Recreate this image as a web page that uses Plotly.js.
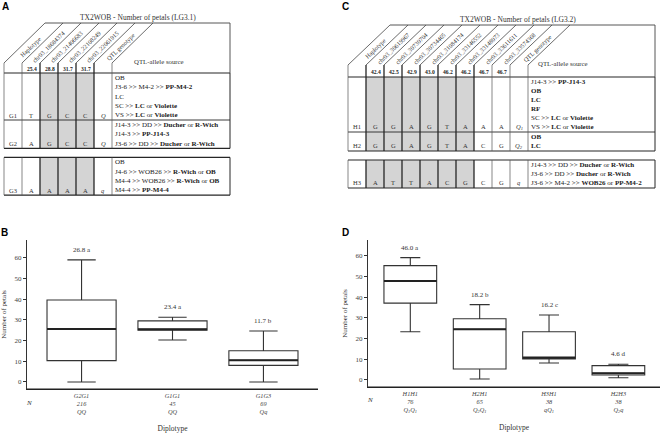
<!DOCTYPE html>
<html><head><meta charset="utf-8">
<script src="https://cdn.plot.ly/plotly-3.0.1.min.js"></script>
<style>html,body{margin:0;padding:0;background:#fff}#chart{width:661px;height:433px}</style>
</head><body><div id="chart"></div>
<script>
// ================= DATA =================
// Panel B (LG3.1 diplotypes)
const catsB = ['G2G1', 'G1G1', 'G1G3'];
const nB = ['216', '45', '69'];
const genoB = ['QQ', 'QQ', 'Qq'];
const q1B = [10.3, 25.0, 8.0];
const medB = [25.6, 25.5, 10.5];
const q3B = [39.6, 29.5, 15.1];
const loB = [0, 20.3, 0];
const hiB = [59.0, 31.3, 24.6];
const meanLabB = ['26.8 a', '23.4 a', '11.7 b'];

// Panel D (LG3.2 diplotypes)
const catsD = ['H1H1', 'H2H1', 'H3H1', 'H2H3'];
const nD = ['76', '65', '38', '38'];
const genoD = ['Q<sub>1</sub>Q<sub>1</sub>', 'Q<sub>2</sub>Q<sub>1</sub>', 'qQ<sub>1</sub>', 'Q<sub>2</sub>q'];
const q1D = [37.1, 5.3, 10.2, 2.4];
const medD = [47.8, 24.5, 10.8, 3.2];
const q3D = [55.2, 29.6, 23.3, 6.9];
const loD = [23.3, 0.5, 8.2, 1.1];
const hiD = [59.1, 36.4, 31.4, 7.6];
const meanLabD = ['46.0 a', '18.2 b', '16.2 c', '4.6 d'];

const yTicks = [0, 10, 20, 30, 40, 50, 60];

// Table A
const titleA = 'TX2WOB - Number of petals (LG3.1)';
const markersA = ['chr03_18684374', 'chr03_21406683', 'chr03_22108249', 'chr03_22061915'];
const posA = ['25.4', '28.8', '31.7', '31.7'];
const grayA = [false, true, true, true];
const hapsA = ['G1', 'G2', 'G3'];
const blockA = [0, 0, 1];
const allelesA = [['T', 'G', 'C', 'C'], ['A', 'G', 'C', 'C'], ['A', 'A', 'A', 'A']];
const qtlA = ['Q', 'Q', 'q'];
const sourcesA = [
  ['OB', 'J3-6 >> M4-2 >> <b>PP-M4-2</b>', 'LC', 'SC >> <b>LC</b> or <b>Violette</b>', 'VS >> <b>LC</b> or <b>Violette</b>'],
  ['J14-3 >> DD >> <b>Ducher</b> or <b>R-Wich</b>', 'J14-3 >> <b>PP-J14-3</b>', 'J3-6 >> DD >> <b>Ducher</b> or <b>R-Wich</b>'],
  ['OB', 'J4-6 >> WOB26 >> <b>R-Wich</b> or <b>OB</b>', 'M4-4 >> WOB26 >> <b>R-Wich</b> or <b>OB</b>', 'M4-4 >> <b>PP-M4-4</b>']
];

// Table C
const titleC = 'TX2WOB - Number of petals (LG3.2)';
const markersC = ['chr03_30619967', 'chr03_30730704', 'chr03_30734465', 'chr03_31084174',
                  'chr03_33146552', 'chr03_33148073', 'chr03_33611611', 'chr03_33574368'];
const posC = ['42.4', '42.5', '42.9', '43.0', '46.2', '46.2', '46.7', '46.7'];
const grayC = [true, true, true, true, true, true, false, false];
const hapsC = ['H1', 'H2', 'H3'];
const blockC = [0, 0, 1];
const allelesC = [['G', 'G', 'A', 'G', 'T', 'A', 'A', 'A'],
                  ['G', 'G', 'A', 'G', 'T', 'A', 'C', 'G'],
                  ['A', 'T', 'T', 'A', 'C', 'G', 'C', 'G']];
const qtlC = ['Q<sub>1</sub>', 'Q<sub>2</sub>', 'q'];
const sourcesC = [
  ['J14-3 >> <b>PP-J14-3</b>', '<b>OB</b>', '<b>LC</b>', '<b>RF</b>', 'SC >> <b>LC</b> or <b>Violette</b>', 'VS >> <b>LC</b> or <b>Violette</b>'],
  ['<b>OB</b>', '<b>LC</b>'],
  ['J14-3 >> DD >> <b>Ducher</b> or <b>R-Wich</b>', 'J3-6 >> DD >> <b>Ducher</b> or <b>R-Wich</b>', 'J3-6 >> M4-2 >> <b>WOB26</b> or <b>PP-M4-2</b>']
];

// ================= STYLE / LAYOUT =================
const SERIF = "'Liberation Serif', 'Times New Roman', serif";
const SANS = "'Liberation Sans', Arial, sans-serif";
const INK = '#333';
const W = 661, H = 433;
const COL_W = 18;

const shapes = [];
const annotations = [];

function buildTable(t) {
  const X = 'x3', Y = 'y3';
  const m = t.markers.length, nc = m + 2;
  const xs = i => t.x0 + i * COL_W;
  const xSrc = xs(nc);
  const dark = {color: '#262626', width: 1.3};
  const thin = {color: '#555', width: 0.7};
  const slantH = t.slantStart - t.topY;
  const colGray = c => (c >= 1 && c <= m) ? t.gray[c - 1] : false;
  const bDark = i => colGray(i - 1) || colGray(i);

  let y = t.headBottom;
  const rowTops = [], rowBots = [];
  t.haps.forEach((h, r) => {
    if (r > 0 && t.block[r] !== t.block[r - 1]) y += t.blockGap;
    rowTops.push(y);
    y += t.sources[r].length * t.lineH + t.rowPad;
    rowBots.push(y);
  });
  const blocks = [];
  t.haps.forEach((h, r) => {
    const b = t.block[r];
    if (!blocks[b]) blocks[b] = {top: rowTops[r], bot: rowBots[r], rows: []};
    blocks[b].bot = rowBots[r];
    blocks[b].rows.push(r);
  });

  blocks.forEach(bk => {
    for (let j = 0; j < m; j++) if (t.gray[j]) {
      shapes.push({type: 'rect', xref: X, yref: Y, x0: xs(j + 1), x1: xs(j + 2), y0: bk.top, y1: bk.bot,
                   fillcolor: '#d4d4d4', line: {width: 0}, layer: 'below'});
    }
    shapes.push({type: 'line', xref: X, yref: Y, x0: xs(0), x1: t.srcRight, y0: bk.top, y1: bk.top, line: {color: '#262626', width: 1.1}});
    shapes.push({type: 'line', xref: X, yref: Y, x0: xs(0), x1: t.srcRight, y0: bk.bot, y1: bk.bot, line: {color: '#262626', width: 1.1}});
    bk.rows.slice(1).forEach(r => {
      shapes.push({type: 'line', xref: X, yref: Y, x0: xs(0), x1: t.srcRight, y0: rowTops[r], y1: rowTops[r], line: {color: '#262626', width: 0.9}});
    });
    for (let i = 0; i <= nc; i++) {
      shapes.push({type: 'line', xref: X, yref: Y, x0: xs(i), x1: xs(i), y0: bk.top, y1: bk.bot, line: bDark(i) ? dark : thin});
    }
    shapes.push({type: 'line', xref: X, yref: Y, x0: t.srcRight, x1: t.srcRight, y0: bk.top, y1: bk.bot, line: {color: '#262626', width: 1}});
  });

  for (let i = 0; i <= nc; i++) {
    shapes.push({type: 'line', xref: X, yref: Y, x0: xs(i), x1: xs(i), y0: t.headBottom, y1: t.slantStart, line: bDark(i) ? dark : thin});
    shapes.push({type: 'line', xref: X, yref: Y, x0: xs(i), x1: xs(i) + t.dx, y0: t.slantStart, y1: t.topY, line: {color: '#444', width: 0.8}});
  }
  shapes.push({type: 'line', xref: X, yref: Y, x0: xs(0) + t.dx, x1: t.srcRight, y0: t.topY, y1: t.topY, line: {color: '#444', width: 0.9}});
  shapes.push({type: 'line', xref: X, yref: Y, x0: t.srcRight, x1: t.srcRight, y0: t.topY, y1: t.headBottom, line: {color: '#444', width: 0.9}});

  const ann = (o) => annotations.push(Object.assign({xref: X, yref: Y, showarrow: false, borderpad: 0,
    xanchor: 'center', yanchor: 'middle'}, o));

  ann({x: (xs(0) + t.dx + t.srcRight) / 2 + t.titleDx, y: t.topY - 5.5, text: t.title, font: {family: SERIF, size: 7.5, color: INK}});
  const heads = ['Haplotype'].concat(t.markers, ['QTL genotype']);
  heads.forEach((h, c) => {
    ann({x: xs(c) + COL_W / 2 + (t.slantStart - t.labelY) * t.dx / slantH, y: t.labelY, text: h, textangle: -44,
         font: {family: SERIF, size: 6.2, color: INK}});
  });
  t.pos.forEach((p, j) => {
    ann({x: xs(j + 1) + COL_W / 2 + 1, y: (t.slantStart + t.headBottom) / 2 + 0.5, text: '<b>' + p + '</b>',
         font: {family: SERIF, size: 5.6, color: '#222'}});
  });
  ann({x: xSrc + t.srcLabelDx, y: t.srcLabelY, xanchor: 'left', text: 'QTL-allele source', font: {family: SERIF, size: 6.8, color: INK}});

  t.haps.forEach((h, r) => {
    const nl = t.sources[r].length;
    const yl = rowTops[r] + (nl - 0.5) * t.lineH + 0.3;
    ann({x: xs(0) + COL_W / 2, y: yl, text: h, font: {family: SERIF, size: 6.5, color: INK}});
    t.alleles[r].forEach((a, j) => ann({x: xs(j + 1) + COL_W / 2, y: yl, text: a, font: {family: SERIF, size: 6.5, color: INK}}));
    ann({x: xs(m + 1) + COL_W / 2, y: yl, text: '<i>' + t.qtl[r] + '</i>', font: {family: SERIF, size: 6.5, color: INK}});
    t.sources[r].forEach((s, k) => {
      ann({x: xSrc + 2, y: rowTops[r] + (k + 0.5) * t.lineH + 0.3, xanchor: 'left', text: s,
           font: {family: SERIF, size: 7, color: '#222'}});
    });
  });
}

buildTable({title: titleA, markers: markersA, pos: posA, gray: grayA, haps: hapsA, block: blockA,
  alleles: allelesA, qtl: qtlA, sources: sourcesA,
  x0: 4, srcRight: 230, topY: 23, slantStart: 63, headBottom: 73, dx: 41, labelY: 46, titleDx: 0,
  lineH: 9.3, rowPad: 0.5, blockGap: 9, srcLabelDx: 21, srcLabelY: 61});

buildTable({title: titleC, markers: markersC, pos: posC, gray: grayC, haps: hapsC, block: blockC,
  alleles: allelesC, qtl: qtlC, sources: sourcesC,
  x0: 348, srcRight: 655, topY: 25, slantStart: 65, headBottom: 77, dx: 42, labelY: 48, titleDx: -5,
  lineH: 9.0, rowPad: 1, blockGap: 9, srcLabelDx: 9, srcLabelY: 63});

function boxTrace(cats, q1, med, q3, lo, hi, xa, ya, ww) {
  return {type: 'box', x: cats, q1: q1, median: med, q3: q3, lowerfence: lo, upperfence: hi,
          xaxis: xa, yaxis: ya, width: 0.76, whiskerwidth: ww, boxpoints: false,
          fillcolor: 'rgba(255,255,255,0)', line: {color: INK, width: 1.1}, hoverinfo: 'skip'};
}
function medianShapes(med, xa, ya) {
  med.forEach((v, i) => shapes.push({type: 'line', xref: xa, yref: ya, x0: i - 0.38, x1: i + 0.38, y0: v, y1: v,
    line: {color: '#222', width: 2}}));
}
function meanLabels(cats, hi, labs, xa, ya) {
  cats.forEach((c, i) => annotations.push({xref: xa, yref: ya, x: i, y: hi[i], yshift: 10, showarrow: false,
    text: labs[i], font: {family: SERIF, size: 7, color: INK}}));
}
function tickText(cats, ns, genos) {
  return cats.map((c, i) => '<i>' + c + '</i><br><i>' + ns[i] + '</i><br><i>' + genos[i] + '</i>');
}
function xAxisLine(xa, ya) {
  shapes.push({type: 'line', xref: xa + ' domain', yref: ya + ' domain', x0: 0, x1: 1, y0: 0, y1: 0,
    line: {color: '#222', width: 1.2}});
}

medianShapes(medB, 'x', 'y');
medianShapes(medD, 'x2', 'y2');
meanLabels(catsB, hiB, meanLabB, 'x', 'y');
meanLabels(catsD, hiD, meanLabD, 'x2', 'y2');
xAxisLine('x', 'y');
xAxisLine('x2', 'y2');

[['A', 5, 6], ['C', 345, 7], ['B', 4, 232], ['D', 345, 232]].forEach(([t, px, py]) => {
  annotations.push({xref: 'paper', yref: 'paper', x: px / W, y: 1 - py / H, showarrow: false, text: '<b>' + t + '</b>',
    font: {family: SANS, size: 10, color: '#000'}, xanchor: 'center', yanchor: 'middle'});
});
[[29, 403], [370, 400]].forEach(([px, py]) => {
  annotations.push({xref: 'paper', yref: 'paper', x: px / W, y: 1 - py / H, showarrow: false, text: '<i>N</i>',
    font: {family: SERIF, size: 7, color: INK}, xanchor: 'center', yanchor: 'middle'});
});

const yAxisBase = {range: [-3.4, 68.6], tickvals: yTicks, ticks: 'outside', ticklen: 3, tickwidth: 1, tickcolor: INK,
  showline: true, linecolor: INK, linewidth: 1, showgrid: false, zeroline: false,
  tickfont: {family: SERIF, size: 7, color: '#444'},
  title: {text: 'Number of petals', font: {family: SERIF, size: 7, color: INK}, standoff: 7}};
const xAxisBase = {type: 'category', tickmode: 'array', ticks: '', showline: true, linecolor: '#222', linewidth: 1.2,
  showgrid: false, zeroline: false, tickfont: {family: SERIF, size: 6.3, color: '#444'},
  title: {text: 'Diplotype', font: {family: SERIF, size: 7.5, color: INK}, standoff: 11}};

const layout = {
  width: W, height: H, margin: {l: 0, r: 0, t: 0, b: 0}, showlegend: false,
  paper_bgcolor: '#fff', plot_bgcolor: 'rgba(0,0,0,0)',
  xaxis: Object.assign({}, xAxisBase, {domain: [27 / W, 318 / W], range: [-0.6, 2.6], tickvals: catsB, ticktext: tickText(catsB, nB, genoB), anchor: 'y'}),
  yaxis: Object.assign({}, yAxisBase, {domain: [(H - 389) / H, (H - 240) / H], anchor: 'x'}),
  xaxis2: Object.assign({}, xAxisBase, {domain: [368 / W, 660 / W], range: [-0.61, 3.6], tickvals: catsD, ticktext: tickText(catsD, nD, genoD), anchor: 'y2'}),
  yaxis2: Object.assign({}, yAxisBase, {domain: [(H - 387) / H, (H - 240) / H], range: [-3.4, 67.6], anchor: 'x2'}),
  xaxis3: {domain: [0, 1], range: [0, W], visible: false, fixedrange: true, anchor: 'y3'},
  yaxis3: {domain: [1 - 200 / H, 1], range: [200, 0], visible: false, fixedrange: true, anchor: 'x3'},
  shapes: shapes, annotations: annotations
};

const data = [
  boxTrace(catsB, q1B, medB, q3B, loB, hiB, 'x', 'y', 0.41),
  boxTrace(catsD, q1D, medD, q3D, loD, hiD, 'x2', 'y2', 0.38),
  {type: 'scatter', x: [0], y: [0], xaxis: 'x3', yaxis: 'y3', mode: 'markers', marker: {opacity: 0}, hoverinfo: 'skip'}
];

Plotly.newPlot('chart', data, layout, {staticPlot: true});
</script>
</body></html>
